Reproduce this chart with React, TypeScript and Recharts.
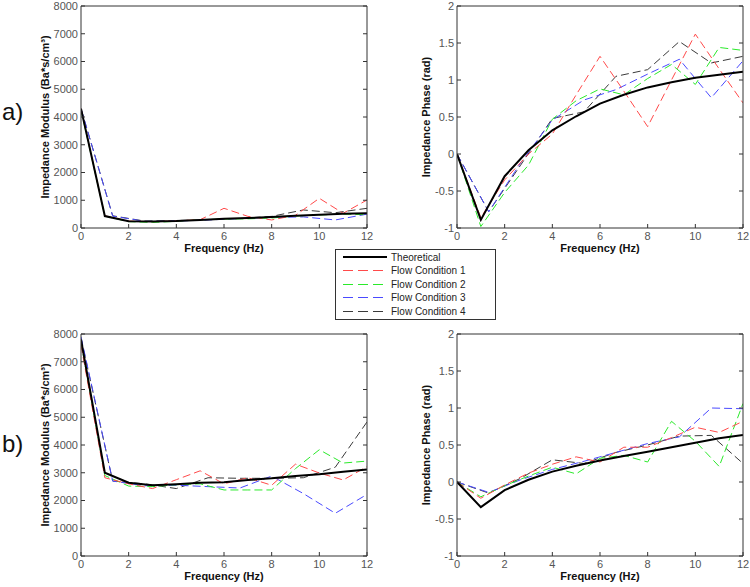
import React from "react";
import { LineChart, Line, XAxis, YAxis } from "recharts";

// sample frequencies (Hz) for each kind of trace
const freqTheory = [0, 1, 2, 3, 4, 5, 6, 7, 8, 9, 10, 11, 12];
const freqFlow13 = [0, 1, 2, 3, 4, 5, 6, 7, 8, 9, 10, 11, 12];
const freqFlow24 = [0, 1.33, 2.67, 4, 5.33, 6.67, 8, 9.33, 10.67, 12];

const freqTicks = [0, 2, 4, 6, 8, 10, 12];
const modulusTicks = [0, 1000, 2000, 3000, 4000, 5000, 6000, 7000, 8000];
const phaseTicks = [-1, -0.5, 0, 0.5, 1, 1.5, 2];

const seriesNames = ["Theoretical", "Flow Condition 1", "Flow Condition 2", "Flow Condition 3", "Flow Condition 4"];
const seriesColors = ["#000000", "#ff4a4a", "#2bea2b", "#4a4aff", "#3a3a3a"];

// a) impedance modulus
const modATheory = [4300, 430, 240, 230, 250, 290, 330, 360, 400, 440, 480, 510, 530];
const modAFlow1 = [4300, 440, 250, 230, 260, 300, 710, 420, 290, 460, 1070, 530, 1010];
const modAFlow2 = [4250, 430, 230, 200, 240, 300, 320, 330, 360, 430, 470, 500, 480];
const modAFlow3 = [4300, 430, 240, 250, 290, 340, 380, 400, 290, 500];
const modAFlow4 = [4300, 440, 250, 270, 300, 340, 420, 650, 550, 710];

// a) impedance phase
const phaseATheory = [0, -0.89, -0.3, 0.05, 0.32, 0.51, 0.68, 0.8, 0.9, 0.97, 1.03, 1.07, 1.11];
const phaseAFlow1 = [0, -0.86, -0.35, 0.0, 0.27, 0.8, 1.32, 0.85, 0.37, 1.0, 1.62, 1.15, 0.69];
const phaseAFlow2 = [0, -0.98, -0.52, -0.15, 0.47, 0.72, 0.88, 0.8, 1.02, 1.21, 0.94, 1.44, 1.4];
const phaseAFlow3 = [0, -0.78, -0.12, 0.46, 0.73, 0.87, 1.08, 1.28, 0.76, 1.26];
const phaseAFlow4 = [0, -0.78, -0.15, 0.48, 0.57, 1.05, 1.14, 1.52, 1.23, 1.32];

// b) impedance modulus
const modBTheory = [7800, 3000, 2640, 2550, 2590, 2640, 2660, 2740, 2800, 2880, 2950, 3040, 3120];
const modBFlow1 = [7600, 2820, 2600, 2430, 2750, 3070, 2600, 2820, 2550, 3310, 2990, 2740, 3220];
const modBFlow2 = [7700, 2900, 2520, 2500, 2570, 2600, 2380, 2380, 2380, 3150, 3830, 3350, 3420];
const modBFlow3 = [7900, 2700, 2530, 2550, 2500, 2450, 2880, 2250, 1540, 2220];
const modBFlow4 = [7850, 2700, 2600, 2430, 2820, 2800, 2800, 2820, 3200, 4830];

// b) impedance phase
const phaseBTheory = [0, -0.34, -0.11, 0.03, 0.14, 0.22, 0.29, 0.35, 0.41, 0.47, 0.53, 0.59, 0.635];
const phaseBFlow1 = [0, -0.22, -0.04, 0.12, 0.24, 0.34, 0.27, 0.47, 0.47, 0.6, 0.74, 0.67, 0.82];
const phaseBFlow2 = [0, -0.2, -0.05, 0.08, 0.2, 0.11, 0.32, 0.36, 0.27, 0.82, 0.55, 0.21, 1.06];
const phaseBFlow3 = [0, -0.14, 0.03, 0.17, 0.28, 0.4, 0.52, 0.61, 1.0, 0.99];
const phaseBFlow4 = [0, -0.15, 0.05, 0.3, 0.25, 0.4, 0.5, 0.62, 0.63, 0.25];

const seriesFreqs = [freqTheory, freqFlow13, freqFlow13, freqFlow24, freqFlow24];

const toPoints = (freq: number[], vals: number[]) => freq.map((f, i) => ({ f, v: vals[i] }));

const FONT = "'Liberation Sans', Arial, sans-serif";
const PLOT_H = 222;

type PanelProps = {
  left: number;
  top: number;
  height: number;
  marginTop: number;
  yWidth: number;
  rightMargin: number;
  values: number[][];
  domain: [number, number];
  ticks: number[];
  yLabel: string;
  yLabelOffset: number;
};

function Panel(p: PanelProps) {
  // the top axis takes 1px, so take it off the margin
  const xHeight = p.height - p.marginTop - PLOT_H;
  const noTick = () => <g />;
  return (
    <div style={{ position: "absolute", left: p.left, top: p.top }}>
      <LineChart
        width={375}
        height={p.height}
        margin={{ top: p.marginTop - 1, right: p.rightMargin - 1, bottom: 0, left: 0 }}
      >
        <XAxis
          dataKey="f"
          type="number"
          domain={[0, 12]}
          ticks={freqTicks}
          interval={0}
          height={xHeight}
          stroke="#333"
          tickSize={-4}
          tickMargin={8}
          tick={{ fill: "#555", fontSize: 11 }}
          allowDataOverflow
          label={{
            value: "Frequency (Hz)",
            position: "insideTop",
            offset: 16,
            fill: "#111",
            fontSize: 11,
            fontWeight: "bold",
          }}
        />
        <XAxis
          xAxisId="top"
          orientation="top"
          type="number"
          domain={[0, 12]}
          ticks={freqTicks}
          interval={0}
          height={1}
          stroke="#333"
          tickSize={-4}
          tick={noTick}
          allowDataOverflow
        />
        <YAxis
          type="number"
          domain={p.domain}
          ticks={p.ticks}
          interval={0}
          width={p.yWidth}
          stroke="#333"
          tickSize={-4}
          tickMargin={7}
          tick={{ fill: "#555", fontSize: 11 }}
          allowDataOverflow
          label={{
            value: p.yLabel,
            angle: -90,
            position: "insideLeft",
            offset: p.yLabelOffset,
            fill: "#111",
            fontSize: 11,
            fontWeight: "bold",
            style: { textAnchor: "middle" },
          }}
        />
        <YAxis
          yAxisId="right"
          orientation="right"
          type="number"
          domain={p.domain}
          ticks={p.ticks}
          interval={0}
          width={1}
          stroke="#333"
          tickSize={-4}
          tick={noTick}
          allowDataOverflow
        />
        {[4, 3, 2, 1, 0].map((k) => (
          <Line
            key={k}
            data={toPoints(seriesFreqs[k], p.values[k])}
            dataKey="v"
            name={seriesNames[k]}
            stroke={seriesColors[k]}
            strokeWidth={k === 0 ? 2 : 1}
            strokeDasharray={k === 0 ? undefined : "8 4"}
            dot={false}
            isAnimationActive={false}
          />
        ))}
      </LineChart>
    </div>
  );
}

const legendRowY = [257, 270.5, 284.5, 297.5, 311.5];

export default function App() {
  return (
    <div
      style={{
        position: "absolute",
        left: 0,
        top: 0,
        width: 750,
        height: 587,
        background: "#fff",
        fontFamily: FONT,
        overflow: "hidden",
      }}
    >
      <Panel
        left={0}
        top={0}
        height={262}
        marginTop={6}
        yWidth={81}
        rightMargin={8}
        values={[modATheory, modAFlow1, modAFlow2, modAFlow3, modAFlow4]}
        domain={[0, 8000]}
        ticks={modulusTicks}
        yLabel="Impedance Modulus (Ba*s/cm³)"
        yLabelOffset={45}
      />
      <Panel
        left={375}
        top={0}
        height={262}
        marginTop={6}
        yWidth={82}
        rightMargin={7}
        values={[phaseATheory, phaseAFlow1, phaseAFlow2, phaseAFlow3, phaseAFlow4]}
        domain={[-1, 2]}
        ticks={phaseTicks}
        yLabel="Impedance Phase (rad)"
        yLabelOffset={51}
      />
      <Panel
        left={0}
        top={320}
        height={267}
        marginTop={14}
        yWidth={81}
        rightMargin={8}
        values={[modBTheory, modBFlow1, modBFlow2, modBFlow3, modBFlow4]}
        domain={[0, 8000]}
        ticks={modulusTicks}
        yLabel="Impedance Modulus (Ba*s/cm³)"
        yLabelOffset={45}
      />
      <Panel
        left={375}
        top={320}
        height={267}
        marginTop={14}
        yWidth={82}
        rightMargin={7}
        values={[phaseBTheory, phaseBFlow1, phaseBFlow2, phaseBFlow3, phaseBFlow4]}
        domain={[-1, 2]}
        ticks={phaseTicks}
        yLabel="Impedance Phase (rad)"
        yLabelOffset={51}
      />
      <svg
        width={750}
        height={587}
        style={{ position: "absolute", left: 0, top: 0, pointerEvents: "none" }}
      >
        <text x={2} y={120} fontSize={24} fill="#111" fontFamily={FONT}>a)</text>
        <text x={2} y={452} fontSize={24} fill="#111" fontFamily={FONT}>b)</text>
        <rect x={335.5} y={249.5} width={160} height={70} fill="#fff" stroke="#333" />
        {seriesNames.map((name, k) => (
          <g key={name}>
            <line
              x1={343}
              x2={387}
              y1={legendRowY[k]}
              y2={legendRowY[k]}
              stroke={seriesColors[k]}
              strokeWidth={k === 0 ? 2 : 1}
              strokeDasharray={k === 0 ? undefined : "10 5"}
            />
            <text x={391} y={legendRowY[k] + 3.5} fontSize={10} fill="#222" fontFamily={FONT}>
              {name}
            </text>
          </g>
        ))}
      </svg>
    </div>
  );
}
